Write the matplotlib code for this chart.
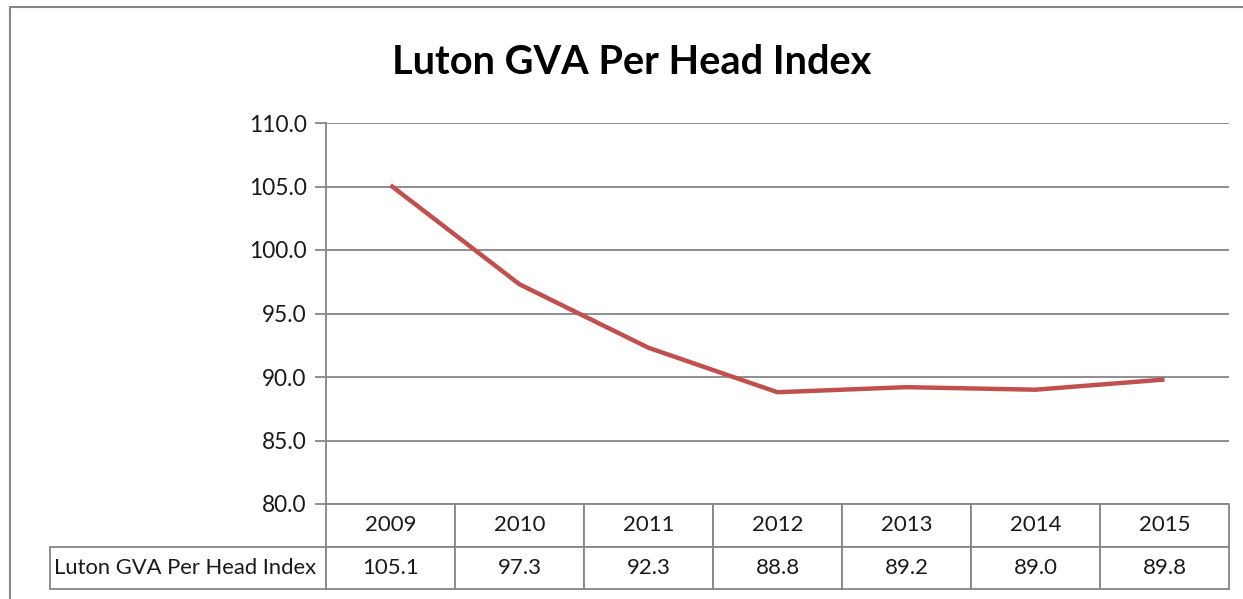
import numpy as np
import matplotlib
matplotlib.use("Agg")
import matplotlib.pyplot as plt
from matplotlib.patches import Rectangle

plt.rcParams['font.family'] = ['Lato', 'DejaVu Sans']

years = ["2009", "2010", "2011", "2012", "2013", "2014", "2015"]
index_vals = [105.1, 97.3, 92.3, 88.8, 89.2, 89.0, 89.8]
series_name = "Luton GVA Per Head Index"
yticks = [80.0, 85.0, 90.0, 95.0, 100.0, 105.0, 110.0]

W, H = 1243, 599
fig = plt.figure(figsize=(W / 100, H / 100), dpi=100)

# outer chart frame (pixels measured from top-left)
fig.patches.append(Rectangle((10 / W, -0.05), 1.1, 1 - 7 / H + 0.05,
                             transform=fig.transFigure, fill=False,
                             edgecolor="#868686", lw=1.5))

left, right, top, bottom = 326, 1229, 123, 504
ax = fig.add_axes([left / W, 1 - bottom / H, (right - left) / W, (bottom - top) / H])

x = np.arange(len(years))
ax.plot(x, index_vals, color="#C0504D", lw=3.2, solid_capstyle="butt", zorder=3)

ax.set_xlim(-0.5, len(years) - 0.5)
ax.set_ylim(80, 110)
ax.set_yticks(yticks)
ax.set_yticklabels(["%.1f" % v for v in yticks], fontsize=16.3, color="#1a1a1a")
ax.set_xticks([])
ax.grid(axis="y", color="#868686", lw=1.3)
ax.set_axisbelow(True)
ax.tick_params(axis="y", length=8, width=1.3, color="#868686", pad=6)
for s in ["top", "right", "bottom"]:
    ax.spines[s].set_visible(False)
ax.spines["left"].set_color("#868686")
ax.spines["left"].set_linewidth(1.3)

# data table under the plot
aw = right - left
lab_w = left - 50
tbl = ax.table(cellText=[[series_name] + ["%.1f" % v for v in index_vals]],
               colLabels=[""] + years,
               colWidths=[lab_w / aw] + [1 / len(years)] * len(years),
               cellLoc="center",
               bbox=[-lab_w / aw, -(589 - bottom) / (bottom - top), 1 + lab_w / aw, (589 - bottom) / (bottom - top)])
tbl.auto_set_font_size(False)
tbl.set_fontsize(16)
for (r, c), cell in tbl.get_celld().items():
    cell.set_edgecolor("#868686")
    cell.set_linewidth(1.3)
    cell.get_text().set_color("#1a1a1a")
    if r == 0 and c == 0:
        cell.visible_edges = ""
    if r == 1 and c == 0:
        cell.get_text().set_fontsize(15.8)
        cell.get_text().set_ha("left")
        cell._loc = "left"
        cell.PAD = 0.015

fig.text(632 / W, 1 - 63 / H, "Luton GVA Per Head Index", ha="center", va="center",
         fontsize=28.6, fontweight="bold", color="black")

fig.savefig("out.png", dpi=100)
